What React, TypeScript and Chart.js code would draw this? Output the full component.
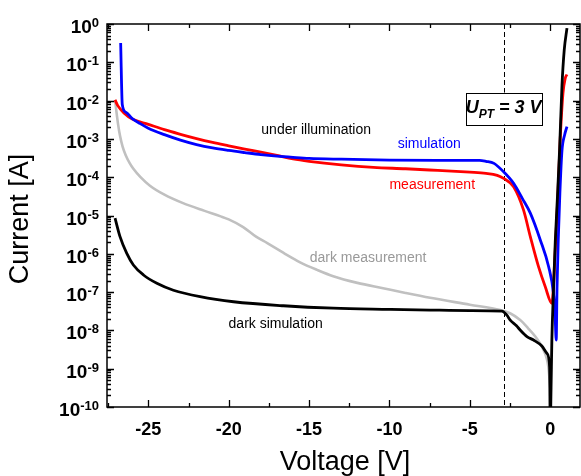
import React, { useEffect, useRef } from "react";
import { Chart, registerables } from "chart.js";

Chart.register(...registerables);

// ---- data (Voltage [V], Current [A]) ----
const simIllumVoltage = [-26.72, -26.62, -26.4, -26.0, -25.5, -25.0, -24.0, -23.0, -22.0, -21.0, -20.0, -19.0, -18.0, -17.0, -16.0, -15.0, -13.0, -10.0, -7.0, -5.0, -4.4, -4.0, -3.5, -2.9, -2.28, -1.74, -1.24, -0.62, -0.1, 0.2, 0.3, 0.37, 0.42, 0.5, 0.6, 0.73, 0.9, 1.04];
const simIllumCurrent = [3.2e-1, 7.9e-3, 5.0e-3, 3.4e-3, 2.5e-3, 1.9e-3, 1.29e-3, 9.3e-4, 7.1e-4, 5.8e-4, 5.0e-4, 4.4e-4, 3.9e-4, 3.55e-4, 3.3e-4, 3.1e-4, 2.95e-4, 2.8e-4, 2.75e-4, 2.75e-4, 2.75e-4, 2.6e-4, 2.3e-4, 1.38e-4, 6.9e-5, 2.8e-5, 1.15e-5, 2.3e-6, 4.6e-7, 9.3e-8, 2.5e-8, 5.6e-9, 1.26e-7, 2.5e-6, 4.0e-5, 5.0e-4, 1.3e-3, 2.1e-3];

const measIllumVoltage = [-27.07, -26.9, -26.5, -26.0, -25.0, -24.0, -23.0, -22.0, -21.0, -20.0, -19.0, -18.0, -17.0, -16.0, -15.0, -13.0, -11.0, -9.0, -7.0, -5.0, -4.0, -3.3, -2.9, -2.28, -1.66, -1.24, -0.73, -0.31, 0.1, 0.31, 0.45, 0.62, 0.79, 0.93, 1.04];
const measIllumCurrent = [1.05e-2, 7.4e-3, 4.7e-3, 3.3e-3, 2.4e-3, 1.74e-3, 1.32e-3, 1.02e-3, 8.1e-4, 6.6e-4, 5.4e-4, 4.5e-4, 3.7e-4, 3.0e-4, 2.6e-4, 2.1e-4, 1.8e-4, 1.66e-4, 1.5e-4, 1.35e-4, 1.26e-4, 1.12e-4, 9.3e-5, 5.6e-5, 1.38e-5, 2.8e-6, 4.6e-7, 1.38e-7, 5.1e-8, 1.26e-6, 2.0e-5, 1.0e-3, 1.55e-2, 3.8e-2, 4.8e-2];

const simDarkVoltage = [-27.07, -26.76, -26.34, -25.93, -25.3, -24.47, -23.44, -21.78, -19.7, -16.6, -13.5, -10.0, -7.47, -5.0, -3.0, -2.7, -2.49, -2.1, -1.87, -1.45, -1.04, -0.52, -0.2, -0.04, 0.0, 0.05, 0.1, 0.2, 0.31, 0.45, 0.58, 0.73, 0.87, 1.04];
const simDarkCurrent = [8.5e-6, 2.8e-6, 1.02e-6, 5.1e-7, 2.8e-7, 1.7e-7, 1.12e-7, 7.6e-8, 5.6e-8, 4.4e-8, 3.8e-8, 3.55e-8, 3.4e-8, 3.3e-8, 3.2e-8, 2.5e-8, 1.86e-8, 1.32e-8, 1.02e-8, 6.9e-9, 5.6e-9, 3.9e-9, 2.5e-9, 1.12e-9, 3.2e-11, 3.2e-10, 5.6e-9, 1.1e-7, 2.0e-6, 3.2e-5, 5.1e-4, 2.5e-2, 2.1e-1, 7.8e-1];

const measDarkVoltage = [-27.07, -26.98, -26.88, -26.76, -26.6, -26.4, -26.15, -25.93, -25.5, -24.9, -24.0, -22.84, -21.5, -20.5, -20.0, -19.1, -18.3, -17.6, -16.5, -15.56, -14.5, -13.5, -12.0, -10.4, -9.0, -7.47, -5.0, -3.1, -2.5, -1.87, -1.4, -0.93, -0.44, -0.12, 0.02];
const measDarkCurrent = [1.05e-2, 5.0e-3, 2.4e-3, 1.2e-3, 6.3e-4, 3.7e-4, 2.3e-4, 1.66e-4, 1.02e-4, 6.0e-5, 3.5e-5, 2.1e-5, 1.32e-5, 9.5e-6, 7.9e-6, 5.0e-6, 2.8e-6, 1.9e-6, 1.0e-6, 6.0e-7, 3.8e-7, 2.6e-7, 1.74e-7, 1.26e-7, 9.5e-8, 7.1e-8, 4.7e-8, 3.4e-8, 2.8e-8, 1.86e-8, 1.17e-8, 6.9e-9, 3.2e-9, 1.12e-9, 2.5e-10];

const yDecades = [-10, -9, -8, -7, -6, -5, -4, -3, -2, -1, 0];
const punchThroughVoltage = -2.9;

const FONT = "'Liberation Sans', Arial, Helvetica, sans-serif";

const zip = (xs: number[], ys: number[]) => xs.map((x, i) => ({ x, y: ys[i] }));

const overlayPlugin = {
  id: "overlay",
  beforeDatasetsDraw(chart: any) {
    const { ctx, chartArea: a, scales } = chart;
    const px = Math.round(scales.x.getPixelForValue(punchThroughVoltage)) + 0.5;
    ctx.save();
    ctx.strokeStyle = "#000";
    ctx.lineWidth = 1;
    ctx.setLineDash([5, 3]);
    ctx.beginPath();
    ctx.moveTo(px, a.top);
    ctx.lineTo(px, a.bottom);
    ctx.stroke();
    ctx.restore();
  },
  afterDatasetsDraw(chart: any) {
    const { ctx, chartArea: a, scales } = chart;
    const xs = scales.x;
    const ys = scales.y;
    ctx.save();
    // frame
    ctx.strokeStyle = "#000";
    ctx.lineWidth = 1.5;
    ctx.strokeRect(a.left, a.top, a.right - a.left, a.bottom - a.top);

    // x ticks (inside, bottom and top)
    ctx.lineWidth = 1.3;
    xs.ticks.forEach((t: any) => {
      const v = t.value;
      const r = Math.round(v);
      const major = Math.abs(v - r) < 1e-6 && r % 5 === 0;
      const len = major ? 7 : 4;
      const p = Math.round(xs.getPixelForValue(v)) + 0.5;
      ctx.beginPath();
      ctx.moveTo(p, a.bottom);
      ctx.lineTo(p, a.bottom - len);
      ctx.moveTo(p, a.top);
      ctx.lineTo(p, a.top + len);
      ctx.stroke();
    });

    // y ticks (inside, left and right)
    yDecades.forEach((k) => {
      const base = Math.pow(10, k);
      const p = Math.round(ys.getPixelForValue(base)) + 0.5;
      ctx.beginPath();
      ctx.moveTo(a.left, p);
      ctx.lineTo(a.left + 7, p);
      ctx.moveTo(a.right, p);
      ctx.lineTo(a.right - 7, p);
      ctx.stroke();
      if (k < 0) {
        for (let m = 2; m <= 9; m++) {
          const q = Math.round(ys.getPixelForValue(m * base)) + 0.5;
          ctx.beginPath();
          ctx.moveTo(a.left, q);
          ctx.lineTo(a.left + 4, q);
          ctx.moveTo(a.right, q);
          ctx.lineTo(a.right - 4, q);
          ctx.stroke();
        }
      }
    });

    // y tick labels 10^k
    ctx.fillStyle = "#000";
    ctx.textBaseline = "alphabetic";
    yDecades.forEach((k) => {
      const p = ys.getPixelForValue(Math.pow(10, k));
      const right = a.left - 8;
      ctx.font = `bold 13px ${FONT}`;
      const exp = String(k);
      const ew = ctx.measureText(exp).width;
      ctx.textAlign = "left";
      ctx.fillText(exp, right - ew, p + 3);
      ctx.font = `bold 19px ${FONT}`;
      const bw = ctx.measureText("10").width;
      ctx.fillText("10", right - ew - bw, p + 9);
    });

    // axis titles
    ctx.font = `27px ${FONT}`;
    ctx.textAlign = "center";
    ctx.textBaseline = "middle";
    ctx.fillText("Voltage [V]", 345, 463);
    ctx.save();
    ctx.translate(21, 219);
    ctx.rotate(-Math.PI / 2);
    ctx.fillText("Current [A]", 0, 0);
    ctx.restore();

    // annotations
    const label = (text: string, v: number, c: number, color: string) => {
      ctx.font = `14px ${FONT}`;
      ctx.fillStyle = color;
      ctx.textAlign = "center";
      ctx.textBaseline = "middle";
      ctx.fillText(text, xs.getPixelForValue(v), ys.getPixelForValue(c));
    };
    label("under illumination", -14.56, 1.7e-3, "#000");
    label("simulation", -7.53, 7.4e-4, "#0000ff");
    label("measurement", -7.34, 6.3e-5, "#ff0000");
    label("dark measurement", -11.33, 7.8e-7, "#999999");
    label("dark simulation", -17.08, 1.48e-8, "#000");

    // U_PT box
    const bx0 = xs.getPixelForValue(-5.25);
    const bx1 = xs.getPixelForValue(-0.55);
    const by0 = ys.getPixelForValue(1.62e-2);
    const by1 = ys.getPixelForValue(2.4e-3);
    ctx.fillStyle = "#fff";
    ctx.fillRect(bx0, by0, bx1 - bx0, by1 - by0);
    ctx.strokeStyle = "#000";
    ctx.lineWidth = 1;
    ctx.strokeRect(Math.round(bx0) + 0.5, Math.round(by0) + 0.5, Math.round(bx1 - bx0), Math.round(by1 - by0));
    ctx.fillStyle = "#000";
    ctx.textBaseline = "alphabetic";
    ctx.textAlign = "left";
    const big = `italic bold 18px ${FONT}`;
    const small = `italic bold 12px ${FONT}`;
    ctx.font = big;
    const w1 = ctx.measureText("U").width;
    const w3 = ctx.measureText(" = 3 V").width;
    ctx.font = small;
    const w2 = ctx.measureText("PT").width;
    const total = w1 + w2 + w3;
    let tx = (bx0 + bx1) / 2 - total / 2;
    const base = (by0 + by1) / 2 + 5;
    ctx.font = big;
    ctx.fillText("U", tx, base);
    tx += w1;
    ctx.font = small;
    ctx.fillText("PT", tx, base + 5);
    tx += w2;
    ctx.font = big;
    ctx.fillText(" = 3 V", tx, base);
    ctx.restore();
  },
};

export default function App() {
  const canvasRef = useRef<HTMLCanvasElement | null>(null);

  useEffect(() => {
    if (!canvasRef.current) return;
    const common = {
      pointRadius: 0,
      borderWidth: 2.8,
      fill: false,
      cubicInterpolationMode: "monotone" as const,
    };
    const chart = new Chart(canvasRef.current, {
      type: "line",
      data: {
        datasets: [
          { ...common, label: "dark simulation", data: zip(simDarkVoltage, simDarkCurrent), borderColor: "#000000", order: 0 },
          { ...common, label: "simulation", data: zip(simIllumVoltage, simIllumCurrent), borderColor: "#0000ff", order: 1 },
          { ...common, label: "measurement", data: zip(measIllumVoltage, measIllumCurrent), borderColor: "#ff0000", order: 2 },
          { ...common, label: "dark measurement", data: zip(measDarkVoltage, measDarkCurrent), borderColor: "#c0c0c0", borderWidth: 2.6, order: 3 },
        ],
      },
      options: {
        responsive: false,
        animation: false,
        layout: { padding: { top: 24, right: 1, left: 0, bottom: 0 } },
        plugins: { legend: { display: false }, tooltip: { enabled: false } },
        scales: {
          x: {
            type: "linear",
            position: "bottom",
            min: -27.57,
            max: 1.85,
            grid: { display: false, drawTicks: false },
            border: { display: false },
            ticks: {
              stepSize: 2.5,
              includeBounds: false,
              autoSkip: false,
              maxRotation: 0,
              padding: 12,
              color: "#000",
              font: { family: FONT, size: 18, weight: "bold" },
              callback: (v: any) => {
                const n = Number(v);
                const r = Math.round(n);
                return Math.abs(n - r) < 1e-6 && r % 5 === 0 ? String(r === 0 ? 0 : r) : "";
              },
            },
            afterFit: (s: any) => {
              s.height = 69;
            },
          },
          y: {
            type: "logarithmic",
            min: 1e-10,
            max: 1,
            grid: { display: false, drawTicks: false },
            border: { display: false },
            ticks: { display: false },
            afterFit: (s: any) => {
              s.width = 107;
            },
          },
        },
      },
      plugins: [overlayPlugin],
    } as any);
    return () => chart.destroy();
  }, []);

  return (
    <div style={{ position: "fixed", left: 0, top: 0, width: 581, height: 476, background: "#fff" }}>
      <canvas ref={canvasRef} width={581} height={476} style={{ display: "block" }} />
    </div>
  );
}
